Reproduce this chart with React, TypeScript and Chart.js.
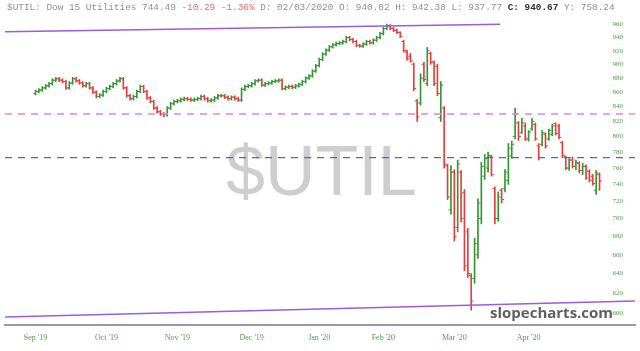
import React, { useEffect, useRef } from "react";
import { Chart, registerables } from "chart.js";
Chart.register(...registerables);

// ---- data (daily OHLC) ----
const opens = [858,861,863,866,869,872,877,879,877,875,866,873,879,876,873,869,872,866,860,854,856,861,865,868,872,876,879,866,855,851,854,861,868,861,852,847,838,833,830,829,838,844,847,848,850,851,850,849,850,851,854,851,848,849,852,855,855,853,851,853,851,849,864,868,869,872,876,877,870,872,873,875,876,877,865,867,868,867,869,871,875,880,883,890,898,907,915,921,926,929,931,932,934,940,937,934,928,927,930,934,932,936,940,946,954,958,954,951,
948,934,918,912,900,848,845,900,872,916,903,897,825,838,763,710,755,690,755,730,685,638,635,660,700,750,760,775,735,700,733,735,745,775,800,818,805,814,796,810,816,788,790,803,797,803,817,814,792,774,760,770,762,766,757,762,756,750,733,752];
const highs = [863,865,868,871,874,879,881,881,879,877,875,881,881,878,875,874,874,868,862,858,863,867,870,874,878,881,881,868,857,856,863,870,870,863,854,849,840,835,832,840,846,849,850,852,853,853,852,852,853,856,856,853,851,854,857,857,857,855,855,855,853,866,870,871,874,878,879,879,874,875,877,878,879,879,869,870,870,871,873,877,882,885,892,900,909,917,923,928,931,933,934,936,942,942,939,936,930,932,936,936,938,942,948,956,961,960,956,953,
949,936,921,916,902,850,886,903,925,918,905,900,875,840,765,763,758,770,757,734,689,640,678,723,767,777,780,776,737,731,735,758,791,794,838,820,824,818,808,824,818,791,808,805,810,816,818,816,794,775,772,774,770,768,766,764,758,752,757,754];
const lows = [856,859,861,864,867,870,875,875,873,864,864,871,874,871,867,867,864,858,852,852,854,859,863,866,870,874,864,853,849,849,852,859,859,850,845,836,831,828,826,827,836,842,845,846,848,848,847,847,848,849,849,846,846,847,850,853,851,849,849,849,847,847,862,866,867,870,874,868,868,870,871,873,874,863,863,865,865,865,867,869,873,878,881,888,896,905,913,919,924,927,929,930,932,935,932,926,925,925,928,930,930,934,938,944,952,952,949,946,
940,918,906,903,862,820,842,875,869,900,869,855,820,760,722,705,675,685,696,643,636,603,630,656,694,746,755,750,694,697,718,731,740,772,797,795,804,795,794,808,795,770,788,785,795,801,802,797,773,758,757,760,758,754,752,746,743,739,728,733];
const closes = [861,863,866,869,872,877,879,877,875,866,873,879,876,873,869,872,866,860,854,856,861,865,868,872,876,879,866,855,851,854,861,868,861,852,847,838,833,830,829,838,844,847,848,850,851,850,849,850,851,854,851,848,849,852,855,855,853,851,853,851,849,864,868,869,872,876,877,870,872,873,875,876,877,865,867,868,867,869,871,875,880,883,890,898,907,915,921,926,929,931,932,934,940,937,934,928,927,930,934,932,936,940,946,954,958,954,951,948,
942,920,908,905,865,826,880,878,920,903,872,858,870,765,725,755,680,765,700,648,640,612,672,718,762,772,776,752,700,725,722,755,785,790,830,800,818,798,806,820,797,773,805,788,808,814,804,799,776,760,770,762,767,757,762,748,745,741,754,744];

const yTickValues = [600,620,640,660,680,700,720,740,760,780,800,820,840,860,880,900,920,940,960];
const monthTickIndex = [0, 21, 42, 64, 84, 103, 124, 146];
const monthTickLabels = ["Sep '19","Oct '19","Nov '19","Dec '19","Jan '20","Feb '20","Mar '20","Apr '20"];

const upperLevel = [830];
const lowerLevel = [773];
const channelTopX = [-9.04, 137.6];
const channelTopY = [949, 960.6];
const channelBottomX = [-9.04, 177.5];
const channelBottomY = [596.2, 612.1];

const X_MIN = -9.04;
const X_MAX = 177.5;
const Y_MIN = 588.6;
const Y_MAX = 991.2;

const GREEN = "rgb(52,150,52)";
const RED = "rgb(228,62,62)";
const LABEL_GREEN = "rgb(78,160,78)";

export default function App() {
  const ref = useRef<HTMLCanvasElement>(null);
  useEffect(() => {
    const idx = closes.map((_, i) => i);
    const colors = idx.map((i) => (closes[i] >= opens[i] ? GREEN : RED));
    const chart = new Chart(ref.current as HTMLCanvasElement, {
      type: "bar",
      data: {
        datasets: [
          {
            type: "line",
            data: [{ x: X_MIN, y: upperLevel[0] }, { x: X_MAX, y: upperLevel[0] }],
            borderColor: "rgb(226,128,226)",
            borderWidth: 1.3,
            borderDash: [7, 6],
            pointRadius: 0,
            order: 1,
          } as any,
          {
            type: "line",
            data: [{ x: X_MIN, y: lowerLevel[0] }, { x: X_MAX, y: lowerLevel[0] }],
            borderColor: "rgb(92,92,222)",
            borderWidth: 1.3,
            borderDash: [7, 6],
            pointRadius: 0,
            order: 1,
          } as any,
          {
            type: "line",
            data: channelTopX.map((x, i) => ({ x, y: channelTopY[i] })),
            borderColor: "rgb(156,92,222)",
            borderWidth: 1.5,
            pointRadius: 0,
            order: 1,
          } as any,
          {
            type: "line",
            data: channelBottomX.map((x, i) => ({ x, y: channelBottomY[i] })),
            borderColor: "rgb(156,92,222)",
            borderWidth: 1.5,
            pointRadius: 0,
            order: 1,
          } as any,
          {
            type: "bar",
            data: idx.map((i) => ({ x: i, y: [lows[i], highs[i]] })),
            backgroundColor: colors,
            borderWidth: 0,
            barThickness: 1,
            order: 2,
          } as any,
          {
            type: "line",
            data: idx.map((i) => ({ x: i - 0.35, y: opens[i] })),
            showLine: false,
            pointStyle: "line",
            pointRadius: 1.2,
            pointBorderWidth: 1,
            pointBorderColor: colors,
            pointBackgroundColor: colors,
            order: 2,
          } as any,
          {
            type: "line",
            data: idx.map((i) => ({ x: i + 0.35, y: closes[i] })),
            showLine: false,
            pointStyle: "line",
            pointRadius: 1.2,
            pointBorderWidth: 1,
            pointBorderColor: colors,
            pointBackgroundColor: colors,
            order: 2,
          } as any,
        ],
      },
      options: {
        responsive: false,
        animation: false,
        devicePixelRatio: 1,
        events: [],
        layout: { padding: 0 },
        plugins: { legend: { display: false }, tooltip: { enabled: false } },
        scales: {
          x: {
            type: "linear",
            min: X_MIN,
            max: X_MAX,
            offset: false,
            grid: { display: false, drawTicks: false },
            border: { display: true, color: "#9a9a9a", width: 2 },
            ticks: {
              autoSkip: false,
              maxRotation: 0,
              padding: 8,
              color: LABEL_GREEN,
              font: { family: "Liberation Serif", size: 8 },
              callback: (v: any) => {
                const k = monthTickIndex.indexOf(Number(v));
                return k >= 0 ? monthTickLabels[k] : "";
              },
            },
            afterBuildTicks: (s: any) => {
              s.ticks = monthTickIndex.map((v) => ({ value: v }));
            },
            afterFit: (s: any) => {
              s.height = 26;
              s.paddingLeft = 0;
              s.paddingRight = 0;
            },
          },
          y: {
            type: "logarithmic",
            position: "right",
            min: Y_MIN,
            max: Y_MAX,
            grid: { display: false, drawTicks: false },
            border: { display: false },
            ticks: {
              mirror: true,
              padding: 12,
              color: LABEL_GREEN,
              font: { family: "Liberation Serif", size: 7 },
              callback: (v: any) => String(v),
            },
            afterBuildTicks: (s: any) => {
              s.ticks = yTickValues.map((v) => ({ value: v }));
            },
            afterFit: (s: any) => {
              s.width = 0;
              s.paddingTop = 0;
              s.paddingBottom = 0;
            },
          },
        },
      } as any,
    });
    // keep the mirrored labels inside the canvas whichever way the padding is applied
    const ys: any = chart.scales.y;
    const items = ys._labelItems || (ys._computeLabelItems ? ys._computeLabelItems(chart.chartArea) : null);
    if (items && items.length && items[0].options && items[0].options.translation[0] > 634) {
      (chart.options.scales as any).y.ticks.padding = -12;
      chart.update();
    }
    return () => chart.destroy();
  }, []);

  return (
    <div
      style={{
        position: "absolute",
        left: 0,
        top: 0,
        width: 640,
        height: 351,
        overflow: "hidden",
        background: "#ffffff",
      }}
    >
      <div
        style={{
          position: "absolute",
          left: 226,
          top: 136,
          fontFamily: "Liberation Sans",
          fontSize: 70,
          lineHeight: 1,
          color: "rgb(206,206,206)",
          whiteSpace: "pre",
        }}
      >
        $UTIL
      </div>
      <canvas
        ref={ref}
        width={640}
        height={351}
        style={{ position: "absolute", left: 0, top: 0, width: 640, height: 351 }}
      />
      <div
        style={{
          position: "absolute",
          left: 7,
          top: 3,
          fontFamily: "Liberation Mono",
          fontSize: 9.4,
          lineHeight: "10px",
          color: "#909090",
          whiteSpace: "pre",
        }}
      >
        <span>$UTIL: Dow 15 Utilities 744.49 </span>
        <span style={{ color: "#ee6a6a" }}>-10.29 -1.36%</span>
        <span> D: 02/03/2020 O: 940.02 H: 942.38 L: 937.77 </span>
        <span style={{ color: "#333", fontWeight: "bold" }}>C: 940.67</span>
        <span> Y: 758.24</span>
      </div>
      <div
        style={{
          position: "absolute",
          left: 490,
          top: 302,
          fontFamily: "Open Sans",
          fontWeight: 700,
          fontSize: 15,
          lineHeight: "20px",
          color: "#5f5f5f",
          whiteSpace: "pre",
        }}
      >
        slopecharts.com
      </div>
    </div>
  );
}
